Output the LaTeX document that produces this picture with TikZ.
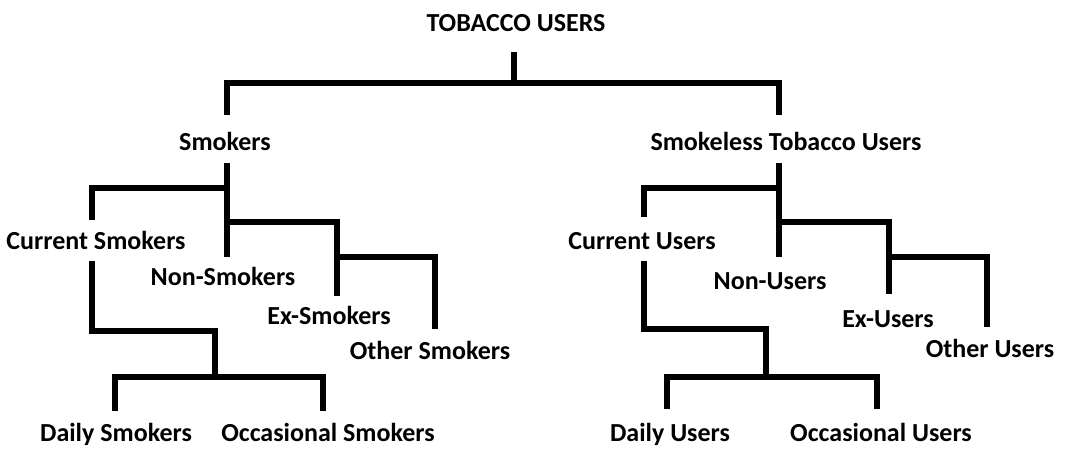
\documentclass[tikz,border=0pt]{standalone}
\usepackage{fontspec}
\setmainfont{Carlito}
\tikzset{
  lbl/.style={inner sep=0pt,outer sep=0pt,anchor=base,
    font=\bfseries\fontsize{26}{31}\selectfont,text depth=0pt},
  conn/.style={line width=5.5pt,line join=miter,line cap=butt}}
\begin{document}
\begin{tikzpicture}[x=1pt,y=-1pt]
\useasboundingbox[fill=white] (0,0) rectangle (1068,448);
% nodes (baseline positions)
\node[lbl,text height=29.5pt,text depth=20.5pt] (root) at (516,31.5) {TOBACCO USERS};
\node[lbl,text height=35pt,text depth=13pt] (sm) at (225,150) {Smokers};
\node[lbl,text height=35pt,text depth=13pt] (st) at (786,150) {Smokeless Tobacco Users};
\node[lbl,text height=29pt,text depth=12pt] (cs) at (96,249) {Current Smokers};
\node[lbl,text height=28pt] (ns) at (223,285) {Non-Smokers};
\node[lbl,text height=28pt] (es) at (329,324) {Ex-Smokers};
\node[lbl,text height=30pt] (os) at (430,359) {Other Smokers};
\node[lbl,text height=30pt] (ds) at (116,441) {Daily Smokers};
\node[lbl,text height=30pt] (oc) at (328,441) {Occasional Smokers};
\node[lbl,text height=32pt,text depth=12pt] (cu) at (642,249) {Current Users};
\node[lbl,text height=32pt] (nu) at (770,289) {Non-Users};
\node[lbl,text height=33pt] (eu) at (888,327) {Ex-Users};
\node[lbl,text height=30pt] (ou) at (990,357) {Other Users};
\node[lbl,text height=32pt] (du) at (670,441) {Daily Users};
\node[lbl,text height=32pt] (ocu) at (881,441) {Occasional Users};
% junctions
\coordinate (jroot) at (514,83);
\coordinate (jsm1) at (227,188);
\coordinate (jsm2) at (227,222);
\coordinate (jes) at (337,257);
\coordinate (jcs) at (215,331);
\coordinate (jds) at (215,377);
\coordinate (jst1) at (779,188);
\coordinate (jst2) at (779,222);
\coordinate (jeu) at (889,257);
\coordinate (jcu) at (766,329);
\coordinate (jdu) at (766,377);
% connectors
\draw[conn] ([xshift=-2pt]root.south) -- (jroot);
\draw[conn] ([xshift=2pt]sm.north) |- (jroot) -| ([xshift=-7pt]st.north);
\draw[conn] ([xshift=2pt]sm.south) -- ([xshift=4pt]ns.north);
\draw[conn] (jsm1) -| ([xshift=-4pt]cs.north);
\draw[conn] (jsm2) -| ([xshift=8pt]es.north);
\draw[conn] (jes) -| ([xshift=5pt]os.north);
\draw[conn] ([xshift=-4pt]cs.south) |- (jcs) -- (jds);
\draw[conn] ([xshift=-1pt]ds.north) |- (jds) -| ([xshift=-5pt]oc.north);
\draw[conn] ([xshift=-7pt]st.south) -- ([xshift=9pt]nu.north);
\draw[conn] (jst1) -| ([xshift=2pt]cu.north);
\draw[conn] (jst2) -| ([xshift=1pt]eu.north);
\draw[conn] (jeu) -| ([xshift=-3pt]ou.north);
\draw[conn] ([xshift=2pt]cu.south) |- (jcu) -- (jdu);
\draw[conn] ([xshift=-3pt]du.north) |- (jdu) -| ([xshift=-4pt]ocu.north);
\end{tikzpicture}
\end{document}
